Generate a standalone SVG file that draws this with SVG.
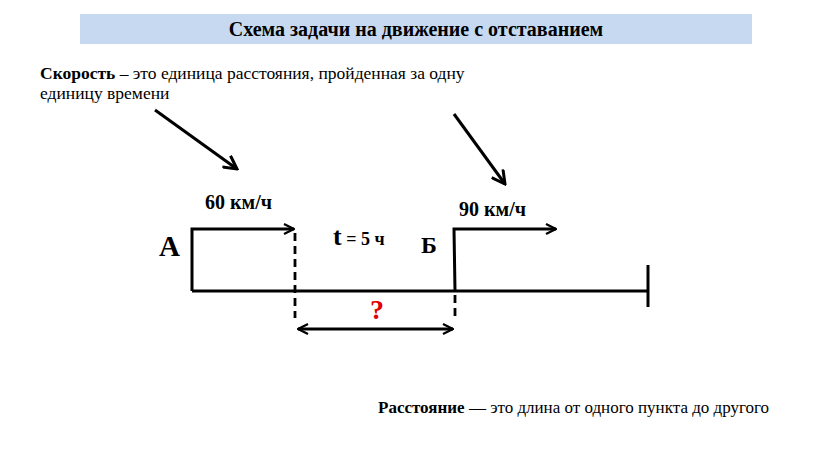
<svg xmlns="http://www.w3.org/2000/svg" width="816" height="459" viewBox="0 0 816 459">
<style>
.s{font-family:"Liberation Serif","Times New Roman",serif;fill:#000}
.b{font-weight:bold}
.ln{stroke:#000;stroke-width:3;fill:none}
.ds{stroke:#000;stroke-width:2.8;fill:none;stroke-dasharray:8,5}
</style>
<defs>
<marker id="ah" viewBox="0 0 12 12" refX="11" refY="6" markerWidth="12" markerHeight="12" markerUnits="userSpaceOnUse" orient="auto-start-reverse">
<path d="M1,1 L11,6 L1,11" fill="none" stroke="#000" stroke-width="2.2"/>
</marker>
<marker id="ah2" viewBox="0 0 16 16" refX="14" refY="8" markerWidth="16" markerHeight="16" markerUnits="userSpaceOnUse" orient="auto">
<path d="M1,1 L14,8 L1,15" fill="none" stroke="#000" stroke-width="3"/>
</marker>
</defs>
<g id="title">
<rect x="80" y="14" width="672" height="30" fill="#c6d9f1"/>
<text class="s b" x="416" y="36" font-size="20" text-anchor="middle">Схема задачи на движение с отставанием</text>
</g>
<g id="speed-def">
<text class="s" x="40" y="79" font-size="17.5"><tspan font-weight="bold">Скорость</tspan> – это единица расстояния, пройденная за одну</text>
<text class="s" x="40" y="99" font-size="17.5">единицу времени</text>
</g>
<g id="distance-def">
<text class="s" x="378" y="413" font-size="17"><tspan font-weight="bold">Расстояние</tspan> — это длина от одного пункта до другого</text>
</g>
<g id="connectors">
<line class="ln" x1="155" y1="110" x2="237" y2="169" marker-end="url(#ah2)"/>
<line class="ln" x1="454" y1="114" x2="505" y2="184" marker-end="url(#ah2)"/>
<polyline class="ln" points="192,291 192,229 294,229" marker-end="url(#ah)"/>
<polyline class="ln" points="455,291 454,229 556,229" marker-end="url(#ah)"/>
<line class="ln" x1="192" y1="291" x2="648" y2="291"/>
<line class="ln" x1="648" y1="265" x2="648" y2="307"/>
<line class="ds" x1="295" y1="233" x2="295" y2="318"/>
<line class="ds" x1="455" y1="295" x2="455" y2="318"/>
<line class="ln" x1="298" y1="329" x2="453" y2="329" marker-start="url(#ah)" marker-end="url(#ah)"/>
</g>
<g id="labels">
<text class="s b" x="205" y="209" font-size="20">60 км/ч</text>
<text class="s b" x="459" y="216" font-size="20">90 км/ч</text>
<text class="s b" x="333" y="245" font-size="26">t<tspan font-size="18"> = 5 ч</tspan></text>
<text class="s b" x="159" y="256" font-size="29">А</text>
<text class="s b" x="421" y="253" font-size="24">Б</text>
<text class="s b" x="377" y="319" font-size="28" text-anchor="middle" fill="#e00000" style="fill:#e00000">?</text>
</g>
</svg>
